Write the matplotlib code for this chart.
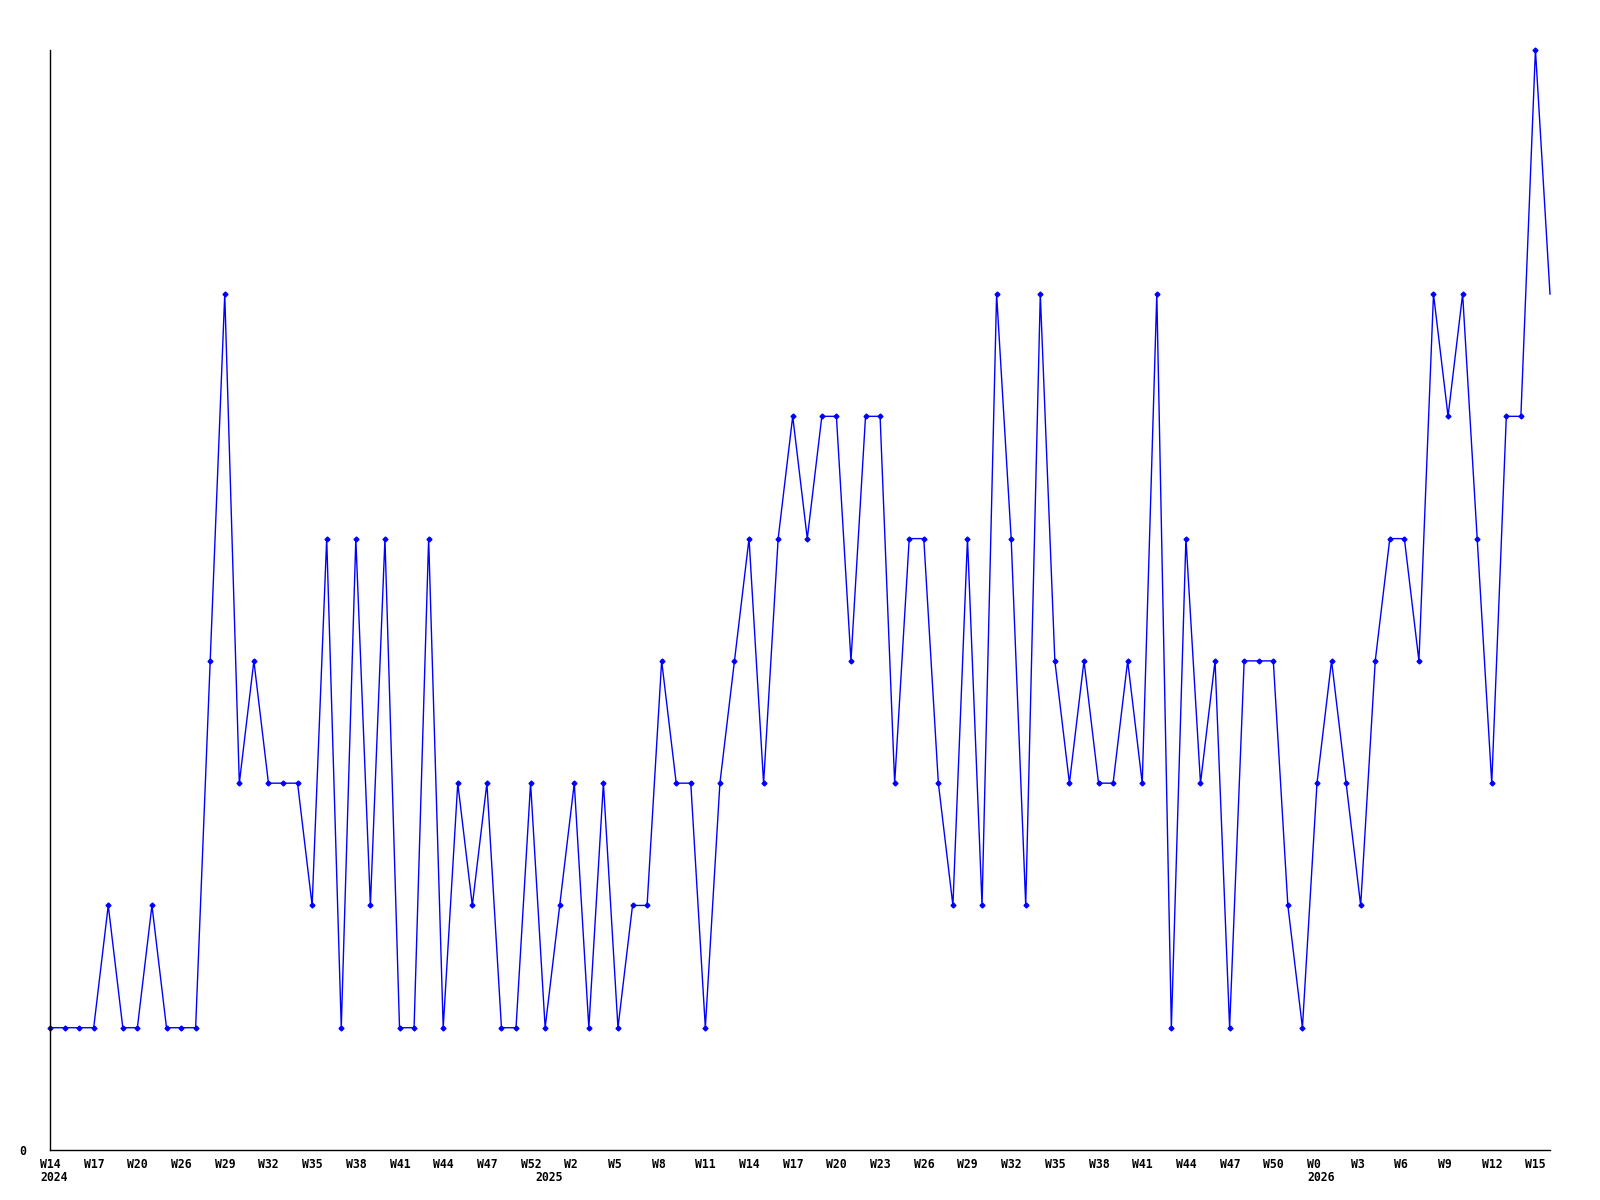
import matplotlib
matplotlib.use("Agg")
import matplotlib.pyplot as plt
import matplotlib.transforms as mtransforms

# weekly values (one per point)
values = [1, 1, 1, 1, 2, 1, 1, 2, 1, 1,
          1, 4, 7, 3, 4, 3, 3, 3, 2, 5,
          1, 5, 2, 5, 1, 1, 5, 1, 3, 2,
          3, 1, 1, 3, 1, 2, 3, 1, 3, 1,
          2, 2, 4, 3, 3, 1, 3, 4, 5, 3,
          5, 6, 5, 6, 6, 4, 6, 6, 3, 5,
          5, 3, 2, 5, 2, 7, 5, 2, 7, 4,
          3, 4, 3, 3, 4, 3, 7, 1, 5, 3,
          4, 1, 4, 4, 4, 2, 1, 3, 4, 3,
          2, 4, 5, 5, 4, 7, 6, 7, 5, 3,
          6, 6, 9, 7]

week_labels = ["W14", "W17", "W20", "W26", "W29", "W32", "W35", "W38", "W41",
               "W44", "W47", "W52", "W2", "W5", "W8", "W11", "W14", "W17",
               "W20", "W23", "W26", "W29", "W32", "W35", "W38", "W41", "W44",
               "W47", "W50", "W0", "W3", "W6", "W9", "W12", "W15"]
label_positions = list(range(0, 104, 3))

year_labels = ["2024", "2025", "2026"]
year_positions = [0, 34, 87]

font = {"family": "DejaVu Sans Mono", "weight": "bold", "size": 8.3}

fig = plt.figure(figsize=(16, 12), dpi=100)
ax = fig.add_axes([50 / 1600, 1 - 1150 / 1200, 1500 / 1600, 1100.5 / 1200])

x = list(range(len(values)))
ax.plot(x, values, color="#0000ff", linewidth=1.0, marker="D", markersize=2.5,
        markevery=list(range(len(values) - 1)), clip_on=False)

ax.set_xlim(0, len(values) - 1)
ax.set_ylim(0, max(values))

for s in ("top", "right"):
    ax.spines[s].set_visible(False)
for s in ("left", "bottom"):
    ax.spines[s].set_linewidth(1.0)
    ax.spines[s].set_color("black")

ax.set_yticks([0])
ax.set_yticklabels(["0"], fontdict=font)
ax.tick_params(axis="y", length=0, pad=17)

ax.set_xticks(label_positions)
ax.set_xticklabels(week_labels, fontdict=font)
ax.tick_params(axis="x", length=0, pad=6)
offset = mtransforms.ScaledTranslation(-10 / 100, 0, fig.dpi_scale_trans)
for lab in ax.get_xticklabels():
    lab.set_horizontalalignment("left")
    lab.set_transform(lab.get_transform() + offset)

for yl, yp in zip(year_labels, year_positions):
    ax.annotate(yl, xy=(yp, 0), xycoords=("data", "axes fraction"),
                xytext=(-10, -21), textcoords="offset pixels",
                ha="left", va="top", **font)

fig.savefig("out.png", dpi=100, facecolor="white")
